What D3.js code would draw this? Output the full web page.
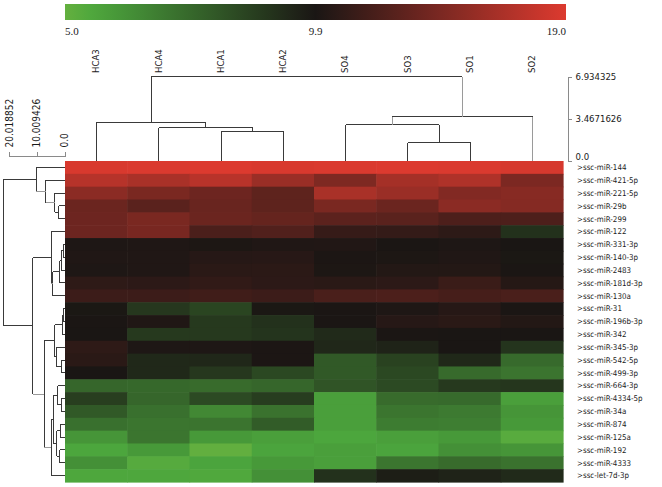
<!DOCTYPE html>
<html lang="en">
<head>
<meta charset="utf-8">
<title>miRNA heatmap</title>
<script src="https://d3js.org/d3.v7.min.js"></script>
<style>
    html, body { margin: 0; padding: 0; background: #fff; }
    text { font-family: "DejaVu Sans Condensed", "DejaVu Sans", sans-serif; fill: #1a1a1a; }
    .tree path { fill: none; stroke: #3a3a3a; stroke-width: 1px; shape-rendering: crispEdges; }
    .tree path.light { stroke: #9a9a9a; }
    .axis path, .axis line { fill: none; stroke: #8a8a8a; shape-rendering: crispEdges; }
    .legend text { font-family: "Liberation Serif", serif; font-size: 11px; }
</style>
</head>
<body>
<script>

// samples (columns, in dendrogram order)
var samples = ["HCA3", "HCA4", "HCA1", "HCA2", "SO4", "SO3", "SO1", "SO2"];

// miRNAs (rows, in dendrogram order)
var mirnas = [">ssc-miR-144", ">ssc-miR-421-5p", ">ssc-miR-221-5p", ">ssc-miR-29b",
    ">ssc-miR-299", ">ssc-miR-122", ">ssc-miR-331-3p", ">ssc-miR-140-3p", ">ssc-miR-2483",
    ">ssc-miR-181d-3p", ">ssc-miR-130a", ">ssc-miR-31", ">ssc-miR-196b-3p", ">ssc-miR-342",
    ">ssc-miR-345-3p", ">ssc-miR-542-5p", ">ssc-miR-499-3p", ">ssc-miR-664-3p",
    ">ssc-miR-4334-5p", ">ssc-miR-34a", ">ssc-miR-874", ">ssc-miR-125a", ">ssc-miR-192",
    ">ssc-miR-4333", ">ssc-let-7d-3p"];

// expression values, one row per miRNA, one value per sample
var expr = [
    [18.8, 18.9, 19.0, 18.8, 18.9, 19.0, 18.9, 18.7],
    [17.2, 16.6, 17.3, 15.9, 14.6, 16.4, 16.9, 14.5],
    [15.2, 14.4, 13.8, 13.1, 16.6, 15.9, 14.8, 15.0],
    [13.7, 12.9, 13.6, 13.1, 14.4, 13.7, 15.2, 14.9],
    [13.8, 14.4, 13.7, 13.4, 13.0, 12.9, 12.3, 12.3],
    [13.8, 14.3, 12.2, 12.5, 11.2, 11.1, 10.8, 9.1],
    [10.1, 10.15, 10.05, 10.2, 10.25, 9.95, 10.1, 9.9],
    [10.2, 10.2, 10.45, 10.5, 10.0, 10.05, 10.2, 9.85],
    [10.1, 10.2, 10.65, 10.7, 10.05, 10.3, 10.3, 9.95],
    [10.85, 10.75, 11.0, 10.75, 10.65, 10.75, 11.4, 10.4],
    [11.5, 11.5, 11.7, 11.5, 12.15, 12.25, 11.95, 12.15],
    [9.85, 8.9, 8.5, 9.85, 9.95, 10.1, 10.45, 9.95],
    [9.95, 10.2, 8.85, 9.1, 9.95, 10.45, 10.65, 10.3],
    [9.9, 8.85, 8.85, 9.0, 9.3, 9.95, 9.9, 9.9],
    [10.85, 10.1, 10.1, 10.0, 9.4, 9.5, 9.9, 9.0],
    [10.65, 9.35, 9.4, 10.0, 7.9, 8.6, 9.35, 7.4],
    [9.9, 9.35, 8.9, 8.4, 7.9, 8.4, 7.4, 7.1],
    [7.5, 7.45, 7.35, 7.5, 8.05, 8.35, 8.85, 8.95],
    [8.7, 7.5, 8.35, 8.75, 5.8, 7.35, 7.4, 5.8],
    [7.9, 7.2, 6.5, 7.15, 5.8, 7.05, 6.9, 6.1],
    [7.2, 7.05, 7.1, 7.8, 5.8, 6.85, 6.8, 6.0],
    [6.1, 7.05, 6.0, 5.8, 5.6, 5.8, 6.0, 5.3],
    [5.6, 6.0, 5.05, 5.65, 5.8, 5.65, 6.25, 6.1],
    [6.25, 5.35, 5.65, 6.0, 5.8, 7.05, 7.35, 7.15],
    [5.55, 5.55, 5.5, 6.25, 9.1, 9.65, 9.5, 9.3]
];

// dendrograms: [height, left, right], a number is a leaf index
var colTree = [6.934325, [3.17, 0, [2.7, 1, [2.4, 2, 3]]], [3.6, [2.95, 4, [1.47, 5, 6]], 7]];
var rowTree = [21.9,
    [10.1, 0, [6.8, 1, [3.6, 2, [2.1, 3, 4]]]],
    [11.4,
        [4.8, 5, [4.2, [1.7, [1.1, [0.4, 6, 7], 8], 9], 10]],
        [7.3,
            [3.6, [0.9, [0.4, 11, 12], 13], [3.0, 14, [1.1, 15, 16]]],
            [4.8, [4.0, [2.5, 17, [1.2, 18, 19]], [2.8, [1.5, 20, 21], [1.8, 22, 23]]], 24]]]];

// axis ticks
var colTicks = [0, 3.4671626, 6.934325];
var colTickLabels = ["0.0", "3.4671626", "6.934325"];
var rowTicks = [0, 10.009426, 20.018852];
var rowTickLabels = ["0.0", "10.009426", "20.018852"];
var legendValues = [5.0, 9.9, 19.0];
var legendLabels = ["5.0", "9.9", "19.0"];

var w = 662, h = 487;

var svg = d3.select("body").append("svg")
    .attr("width", w)
    .attr("height", h);

var xScale = d3.scaleBand().domain(d3.range(samples.length)).range([65, 563]);
var yScale = d3.scaleBand().domain(d3.range(mirnas.length)).range([161, 482]);

var color = d3.scaleLinear()
    .domain([5.0, 5.6, 9.9, 19.0])
    .range(["#64b03f", "#4ca63d", "#1a1614", "#dc3a2f"]);

// heatmap cells
var cells = [];
expr.forEach(function(row, i) {
    row.forEach(function(v, j) { cells.push({r: i, c: j, v: v}); });
});
svg.append("g").selectAll("rect")
    .data(cells)
    .enter().append("rect")
    .attr("x", function(d) { return xScale(d.c); })
    .attr("y", function(d) { return yScale(d.r); })
    .attr("width", xScale.bandwidth() + 0.6)
    .attr("height", yScale.bandwidth() + 0.6)
    .attr("fill", function(d) { return color(d.v); });

// dendrogram drawing; legs below a node deeper than "lightBelow" are drawn grey
function drawTree(g, tree, leafPos, hScale, vertical, lightBelow) {
    function pt(p, hh) { return vertical ? p + "," + hh : hh + "," + p; }
    function walk(n, depth) {
        if (typeof n === "number") return {p: leafPos(n), h: 0};
        var a = walk(n[1], depth + 1), b = walk(n[2], depth + 1);
        var hh = hScale(n[0]);
        g.append("path")
            .attr("d", "M" + pt(a.p, hh) + "L" + pt(b.p, hh));
        [a, b].forEach(function(k, i) {
            g.append("path")
                .attr("class", lightBelow(n, i, depth) ? "light" : null)
                .attr("d", "M" + pt(k.p, hScale(k.h)) + "L" + pt(k.p, hh));
        });
        return {p: (a.p + b.p) / 2, h: n[0]};
    }
    walk(tree, 0);
}

var colH = d3.scaleLinear().domain([0, 6.934325]).range([160.5, 76.5]);
var rowH = d3.scaleLinear().domain([0, 20.018852]).range([64.5, 9]);

drawTree(svg.append("g").attr("class", "tree"), colTree,
    function(i) { return Math.round(xScale(i) + xScale.bandwidth() / 2) + 0.5; }, colH, true,
    function(n, i, depth) { return (depth === 0 && i === 1) || n[2] === 7; });
drawTree(svg.append("g").attr("class", "tree"), rowTree,
    function(i) { return yScale(i) + yScale.bandwidth() / 2; }, rowH, false,
    function(n, i, depth) { return (depth === 1 && i === 1) || depth === 2 && i === 1; });

// column labels
svg.append("g").selectAll("text")
    .data(samples)
    .enter().append("text")
    .attr("transform", function(d, i) {
        return "translate(" + (xScale(i) + xScale.bandwidth() / 2) + ",73) rotate(-90)";
    })
    .attr("dy", "0.35em")
    .style("font-size", "9.5px")
    .text(function(d) { return d; });

// row labels
svg.append("g").selectAll("text")
    .data(mirnas)
    .enter().append("text")
    .attr("x", 577)
    .attr("y", function(d, i) { return yScale(i) + yScale.bandwidth() / 2; })
    .attr("dy", "0.35em")
    .style("font-size", "7.9px")
    .text(function(d) { return d; });

// column dendrogram axis
var colAxis = svg.append("g")
    .attr("class", "axis")
    .attr("transform", "translate(567.5,0)")
    .call(d3.axisRight(colH).tickValues(colTicks).tickSize(4).tickFormat(""));
colAxis.selectAll(".lbl")
    .data(colTicks)
    .enter().append("text")
    .attr("x", 8)
    .attr("y", function(d, i) { return colH(d) - (i === 0 ? 4 : 0); })
    .attr("dy", "0.35em")
    .attr("text-anchor", "start")
    .style("font-size", "9.5px")
    .text(function(d, i) { return colTickLabels[i]; });

// row dendrogram axis
var rowAxis = svg.append("g")
    .attr("class", "axis")
    .attr("transform", "translate(0,155.5)")
    .call(d3.axisTop(rowH).tickValues(rowTicks).tickSize(4).tickFormat(""));
rowAxis.selectAll(".lbl")
    .data(rowTicks)
    .enter().append("text")
    .attr("transform", function(d) { return "translate(" + rowH(d) + ",-8) rotate(-90)"; })
    .attr("dy", "0.35em")
    .attr("text-anchor", "start")
    .style("font-size", "10px")
    .text(function(d, i) { return rowTickLabels[i]; });

// colour legend
var legendX = d3.scaleLinear().domain(legendValues).range([65, 315.5, 566]);
var grad = svg.append("defs").append("linearGradient")
    .attr("id", "lg")
    .attr("x1", "0%").attr("x2", "100%");
d3.range(0, 1.0001, 0.05).forEach(function(t) {
    var v = legendX.invert(65 + t * (566 - 65));
    grad.append("stop").attr("offset", (t * 100) + "%").attr("stop-color", color(v));
});
var legend = svg.append("g").attr("class", "legend");
legend.append("rect")
    .attr("x", 65).attr("y", 4)
    .attr("width", 501).attr("height", 16)
    .attr("fill", "url(#lg)");
legend.selectAll("text")
    .data(legendValues)
    .enter().append("text")
    .attr("x", function(d) { return legendX(d); })
    .attr("y", 35)
    .attr("text-anchor", function(d, i) { return i === 0 ? "start" : (i === 2 ? "end" : "middle"); })
    .text(function(d, i) { return legendLabels[i]; });

</script>
</body>
</html>
